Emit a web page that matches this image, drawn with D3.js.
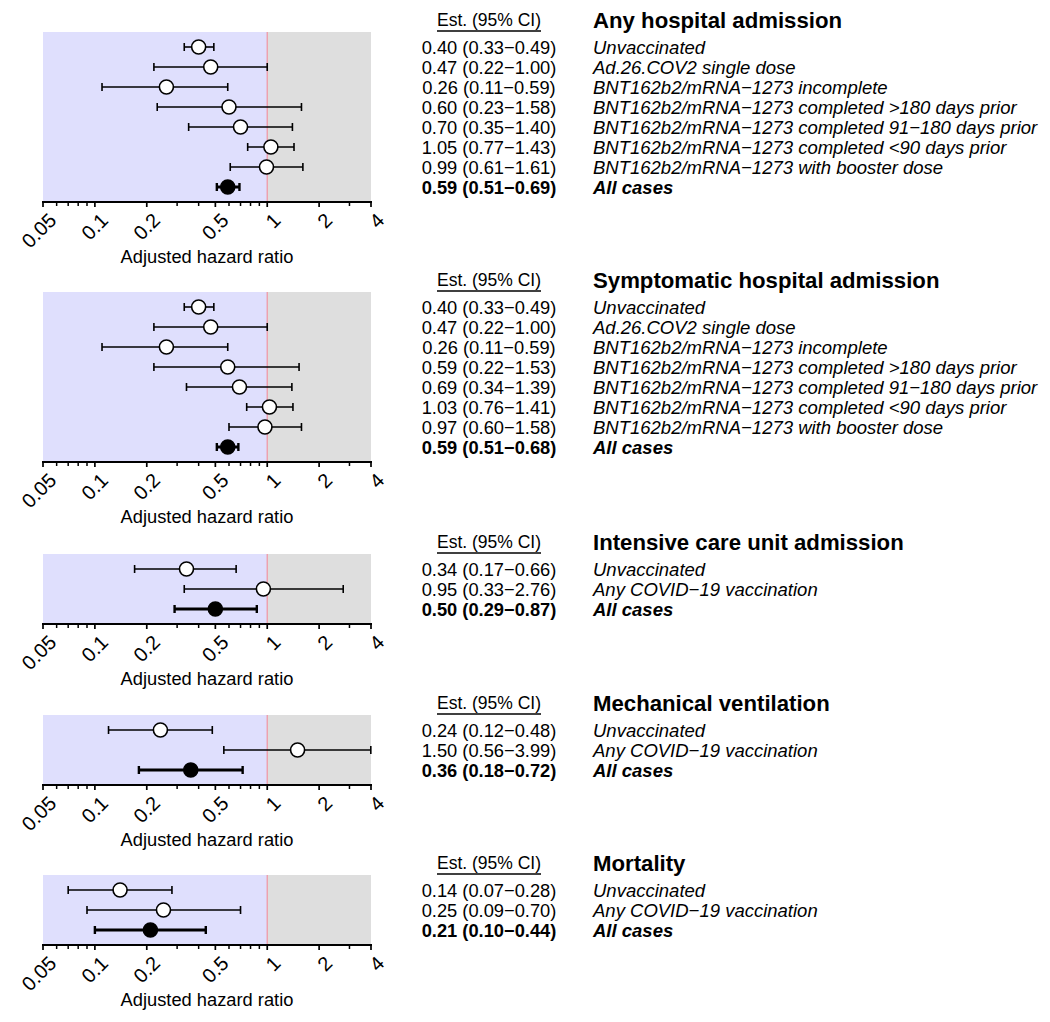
<!DOCTYPE html>
<html><head><meta charset="utf-8">
<script src="https://cdn.jsdelivr.net/npm/d3@7"></script>
<style>body{margin:0;background:#fff;} text{font-family:"Liberation Sans",Arial,sans-serif;}</style>
</head><body>
<svg id="c" width="1050" height="1022"></svg>
<script>
const panelTitles = ["Any hospital admission","Symptomatic hospital admission","Intensive care unit admission","Mechanical ventilation","Mortality"];
const labels1 = ["Unvaccinated","Ad.26.COV2 single dose","BNT162b2/mRNA\u22121273 incomplete","BNT162b2/mRNA\u22121273 completed >180 days prior","BNT162b2/mRNA\u22121273 completed 91\u2212180 days prior","BNT162b2/mRNA\u22121273 completed <90 days prior","BNT162b2/mRNA\u22121273 with booster dose","All cases"];
const labels3 = ["Unvaccinated","Any COVID\u221219 vaccination","All cases"];
const est1 = [0.40,0.47,0.26,0.60,0.70,1.05,0.99,0.59];
const lo1  = [0.33,0.22,0.11,0.23,0.35,0.77,0.61,0.51];
const hi1  = [0.49,1.00,0.59,1.58,1.40,1.43,1.61,0.69];
const est2 = [0.40,0.47,0.26,0.59,0.69,1.03,0.97,0.59];
const lo2  = [0.33,0.22,0.11,0.22,0.34,0.76,0.60,0.51];
const hi2  = [0.49,1.00,0.59,1.53,1.39,1.41,1.58,0.68];
const est3 = [0.34,0.95,0.50];
const lo3  = [0.17,0.33,0.29];
const hi3  = [0.66,2.76,0.87];
const est4 = [0.24,1.50,0.36];
const lo4  = [0.12,0.56,0.18];
const hi4  = [0.48,3.99,0.72];
const est5 = [0.14,0.25,0.21];
const lo5  = [0.07,0.09,0.10];
const hi5  = [0.28,0.70,0.44];
const majorTicks = [0.05,0.1,0.2,0.5,1,2,4];
const minorTicks = [0.06,0.07,0.08,0.09,0.3,0.4,0.6,0.7,0.8,0.9,3];
const axisTitle = "Adjusted hazard ratio";
const headerText = "Est. (95% CI)";

const panels = [
  {title:panelTitles[0], labels:labels1, est:est1, lo:lo1, hi:hi1, top:32},
  {title:panelTitles[1], labels:labels1, est:est2, lo:lo2, hi:hi2, top:292},
  {title:panelTitles[2], labels:labels3, est:est3, lo:lo3, hi:hi3, top:554},
  {title:panelTitles[3], labels:labels3, est:est4, lo:lo4, hi:hi4, top:715},
  {title:panelTitles[4], labels:labels3, est:est5, lo:lo5, hi:hi5, top:875}
];

const svg = d3.select("#c");
const x = d3.scaleLog().domain([0.05,4]).range([43,371]);
const fmt = d3.format(".2f");
const estX = 489, labX = 593;

panels.forEach(p => {
  const n = p.est.length;
  const h = 20*n + 10;
  const g = svg.append("g").attr("transform",`translate(0,${p.top})`);
  const y = i => 15 + 20*i;
  g.append("rect").attr("x",x(0.05)).attr("y",0).attr("width",x(1)-x(0.05)).attr("height",h).attr("fill","#dfdffd");
  g.append("rect").attr("x",x(1)).attr("y",0).attr("width",x(4)-x(1)).attr("height",h).attr("fill","#dedede");
  g.append("line").attr("x1",x(1)).attr("x2",x(1)).attr("y1",0).attr("y2",h).attr("stroke","#f09aa6").attr("stroke-width",1.3);

  // axis
  const ax = g.append("g").attr("transform",`translate(0,${h})`);
  ax.append("line").attr("x1",x(0.05)-1).attr("x2",x(4)+1).attr("y1",0).attr("y2",0).attr("stroke","#000").attr("stroke-width",2.2);
  ax.selectAll("line.mj").data(majorTicks).join("line").attr("class","mj")
    .attr("x1",d=>x(d)).attr("x2",d=>x(d)).attr("y1",0).attr("y2",5).attr("stroke","#000").attr("stroke-width",1.7);
  ax.selectAll("line.mn").data(minorTicks).join("line").attr("class","mn")
    .attr("x1",d=>x(d)).attr("x2",d=>x(d)).attr("y1",0).attr("y2",4).attr("stroke","#000").attr("stroke-width",1.5);
  ax.selectAll("text.tk").data(majorTicks).join("text").attr("class","tk")
    .attr("transform",d=>`translate(${x(d)+4},${9}) rotate(-45)`)
    .attr("text-anchor","end").attr("dy","0.75em").attr("font-size",20).text(d=>String(d));
  ax.append("text").attr("x",(x(0.05)+x(4))/2).attr("y",61).attr("text-anchor","middle").attr("font-size",18.3).text(axisTitle);

  // points
  p.est.forEach((e,i) => {
    const last = i === n-1;
    const sw = last ? 3 : 1.6;
    const yy = y(i);
    g.append("line").attr("x1",x(p.lo[i])).attr("x2",x(p.hi[i])).attr("y1",yy).attr("y2",yy).attr("stroke","#000").attr("stroke-width",sw);
    [p.lo[i],p.hi[i]].forEach(v => g.append("line").attr("x1",x(v)).attr("x2",x(v)).attr("y1",yy-4).attr("y2",yy+4).attr("stroke","#000").attr("stroke-width",last?2.4:1.6));
    g.append("circle").attr("cx",x(e)).attr("cy",yy).attr("r",7).attr("fill",last?"#000":"#fff").attr("stroke","#000").attr("stroke-width",1.6);
    g.append("text").attr("x",estX).attr("y",yy).attr("dy","0.36em").attr("text-anchor","middle").attr("font-size",18.3)
      .attr("font-weight",last?"bold":"normal").text(`${fmt(e)} (${fmt(p.lo[i])}\u2212${fmt(p.hi[i])})`);
    g.append("text").attr("x",labX).attr("y",yy).attr("dy","0.36em").attr("font-size",18.5).attr("font-style","italic")
      .attr("font-weight",last?"bold":"normal").text(p.labels[i]);
  });
  // header
  const ht = g.append("text").attr("x",estX).attr("y",-12).attr("dy","0.36em").attr("text-anchor","middle").attr("font-size",17.5).text(headerText);
  const w = ht.node().getComputedTextLength();
  g.append("line").attr("x1",estX-w/2).attr("x2",estX+w/2).attr("y1",-1).attr("y2",-1).attr("stroke","#000").attr("stroke-width",1.3);
  g.append("text").attr("x",labX).attr("y",-12).attr("dy","0.36em").attr("font-size",22.2).attr("font-weight","bold").text(p.title);
});
</script>
</body></html>
